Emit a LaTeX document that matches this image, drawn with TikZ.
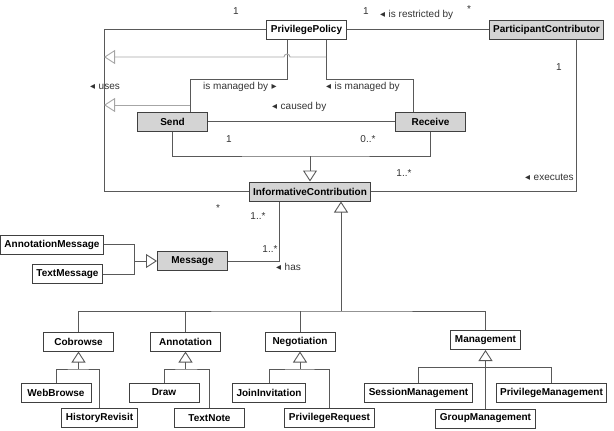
\documentclass[tikz,border=0pt]{standalone}
\usepackage{fontspec}
\setmainfont{Liberation Sans}
\newfontfamily\symfont{DejaVu Sans}
\usetikzlibrary{positioning, arrows.meta}

\newcommand{\lt}{{\symfont\fontsize{10}{10}\selectfont ◂}\hspace{3.5pt}}
\newcommand{\rt}{\hspace{3.5pt}{\symfont\fontsize{10}{10}\selectfont ▸}}

\tikzset{
  cls/.style={draw=black!75, line width=1pt, fill=white, minimum width=70pt,
    minimum height=19pt, inner xsep=4pt, inner ysep=2pt,
    font=\fontsize{10}{12}\selectfont\bfseries},
  gcls/.style={cls, fill=black!17},
  assoc/.style={draw=black!65, line width=0.9pt},
  gen/.style={assoc, -{Triangle[open, length=11pt, width=14pt]}},
  lgen/.style={gen, draw=black!35},
  lbl/.style={font=\fontsize{10}{12}\selectfont, text=black!80, inner sep=0pt},
}

\begin{document}
\begin{tikzpicture}[x=1pt, y=-1pt]
  \useasboundingbox (0,0) rectangle (614,431);

  % classes
  \node[cls] (pp) at (306.5,29.5) {PrivilegePolicy};
  \node[gcls] (pc) at (546.5,29.5) {ParticipantContributor};
  \node[gcls] (send) at (172.5,121.5) {Send};
  \node[gcls] (recv) at (430.5,121.5) {Receive};
  \node[gcls] (ic) at (310,191.5) {InformativeContribution};
  \node[gcls] (msg) at (192.5,261) {Message};
  \node[cls] (am) at (52,244.5) {AnnotationMessage};
  \node[cls] (tm) at (67.5,274) {TextMessage};

  \node[cls] (cob) at (78.5,341.5) {Cobrowse};
  \node[cls] (ann) at (185.5,341.5) {Annotation};
  \node[cls] (neg) at (300,341.5) {Negotiation};
  \node[cls] (mgmt) at (485.5,340) {Management};

  \node[cls] (wb) at (56,392.5) {WebBrowse};
  \node[cls] (hr) at (99.5,418) {HistoryRevisit};
  \node[cls] (dr) at (164,392.5) {Draw};
  \node[cls] (tn) at (209.5,418) {TextNote};
  \node[cls] (ji) at (269,392.5) {JoinInvitation};
  \node[cls] (prq) at (329.5,418) {PrivilegeRequest};
  \node[cls] (sm) at (418.5,392.5) {SessionManagement};
  \node[cls] (pm) at (551.5,392.5) {PrivilegeManagement};
  \node[cls] (gm) at (485.5,418.5) {GroupManagement};

  % bends
  \coordinate (ucorner) at (104,29.5);
  \coordinate (sendup) at (190,79);
  \coordinate (recvup) at (413,79);
  \coordinate (g1) at (326,57);
  \coordinate (g2) at (190,105);
  \coordinate (srjoin) at (310,156);
  \coordinate (execorner) at (576,191.5);
  \coordinate (hascorner) at (279,261);
  \coordinate (msgjoin) at (134,261);
  \coordinate (subjoin) at (341,311);

  % associations
  \draw[assoc] (pp.west) -- (ucorner) |- (ic.west);
  \draw[assoc] (pp.east) -- (pc.west);
  \draw[assoc] (execorner |- pc.south) -- (execorner) -- (ic.east);
  \draw[assoc] (sendup |- send.north) -- (sendup) -| ([xshift=-19.5pt]pp.south);
  \draw[assoc] (recvup |- recv.north) -- (recvup) -| ([xshift=19.5pt]pp.south);
  \draw[assoc] (send.east) -- (recv.west);
  \draw[assoc] (hascorner |- ic.south) -- (hascorner) -- (msg.east);

  % generalizations
  \draw[lgen] (g1) -- (290,57) arc[start angle=0, end angle=-180, radius=3] -- (ucorner |- g1);
  \draw[lgen] (g2) -- (ucorner |- g2);
  \draw[assoc] (send.south) |- (srjoin) -| (recv.south);
  \draw[gen] (srjoin) -- (ic.north);
  \draw[assoc] (am.east) -| (msgjoin);
  \draw[assoc] (tm.east) -| (msgjoin);
  \draw[gen] (msgjoin) -- (msg.west);
  \draw[gen] (subjoin) -- (subjoin |- ic.south);
  \draw[assoc] (cob.north) |- (subjoin) -| (mgmt.north);
  \draw[assoc] (ann.north) -- (ann.north |- subjoin);
  \draw[assoc] (neg.north) -- (neg.north |- subjoin);
  \foreach \parent/\a/\b in {cob/wb/hr, ann/dr/tn, neg/ji/prq, mgmt/sm/pm} {
    \coordinate (\parent-j) at ([yshift=-17.5pt]\parent.south);
    \draw[gen] (\parent-j) -- (\parent.south);
    \draw[assoc] (\a.north) |- (\parent-j) -| (\b.north);
  }
  \draw[assoc] (gm.north) -- (mgmt-j);

  % labels
  \node[lbl] (m1) at (236,11) {1};
  \node[lbl] (m2) at (366,11) {1};
  \node[lbl] (m3) at (469,9) {*};
  \node[lbl, anchor=west] (restr) at (380,15) {\lt is restricted by};
  \node[lbl, anchor=west] (uses) at (90,87) {\lt uses};
  \node[lbl, anchor=west] (mngs) at (203,87) {is managed by\rt};
  \node[lbl, anchor=west] (mngr) at (326,87) {\lt is managed by};
  \node[lbl, anchor=west] (caused) at (272,107) {\lt caused by};
  \node[lbl] (m4) at (229,139) {1};
  \node[lbl] (m5) at (368,139) {0..*};
  \node[lbl] (m6) at (404,173) {1..*};
  \node[lbl] (m7) at (559,67) {1};
  \node[lbl, anchor=west] (exec) at (525,177) {\lt executes};
  \node[lbl] (m8) at (218,208) {*};
  \node[lbl] (m9) at (258,216) {1..*};
  \node[lbl] (m10) at (270,249) {1..*};
  \node[lbl, anchor=west] (has) at (276,267) {\lt has};
\end{tikzpicture}
\end{document}
